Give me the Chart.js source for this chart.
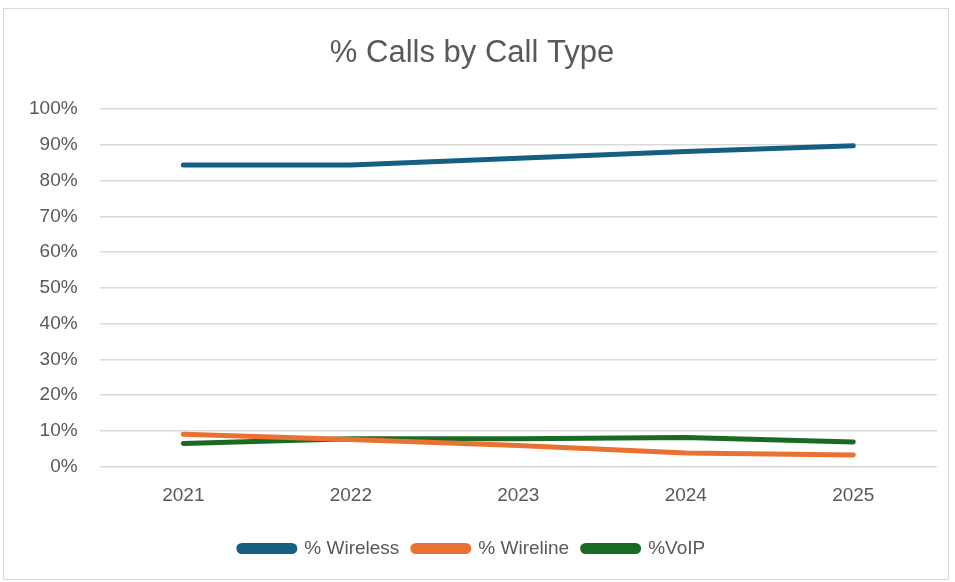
<!DOCTYPE html>
<html>
<head>
<meta charset="utf-8">
<script src="https://cdn.jsdelivr.net/npm/chart.js@4/dist/chart.umd.min.js"></script>
<style>
  html, body { margin: 0; padding: 0; background: #fff; }
  #box {
    position: absolute; left: 3px; top: 8px; width: 946px; height: 572px;
    border: 1px solid #d9d9d9; box-sizing: border-box; background: #fff;
  }
  canvas { display: block; }
</style>
</head>
<body>
<div id="box"><canvas id="chart10"></canvas></div>
<script>
// values
const years = ['2021', '2022', '2023', '2024', '2025'];
const wireless = [84.4, 84.4, 86.3, 88.2, 89.8];
const wireline = [9.1, 7.6, 5.9, 3.8, 3.3];
const voip = [6.5, 7.8, 7.8, 8.2, 6.9];
const yTicks = [0, 10, 20, 30, 40, 50, 60, 70, 80, 90, 100];

const fontFam = "'Liberation Sans', Arial, sans-serif";
const gray = '#595959';

function serie(label, data, color) {
    return {
        label: label,
        data: data,
        borderColor: color,
        backgroundColor: color,
        borderWidth: 5,
        borderCapStyle: 'round',
        borderJoinStyle: 'round',
        pointRadius: 0,
        tension: 0,
    };
}

let ctx = document.getElementById('chart10').getContext('2d');
let chartInst = new Chart(ctx, {
    type: 'line',
    data: {
        labels: years,
        datasets: [
            serie('% Wireless', wireless, '#156082'),
            serie('% Wireline', wireline, '#e97132'),
            serie('%VoIP', voip, '#196b24'),
        ],
    },
    options: {
        responsive: true,
        maintainAspectRatio: false,
        animation: false,
        layout: { padding: { left: 3, right: 11, top: 16, bottom: 11 } },
        plugins: {
            title: {
                display: true,
                text: '% Calls by Call Type',
                color: gray,
                font: { family: fontFam, size: 31, weight: 'normal' },
                padding: { top: 10, bottom: 37 },
            },
            legend: {
                position: 'bottom',
                labels: {
                    color: gray,
                    font: { family: fontFam, size: 19 },
                    boxWidth: 56,
                    boxHeight: 6,
                    useBorderRadius: true,
                    borderRadius: 3,
                    padding: 13.5,
                },
            },
            tooltip: { enabled: false },
        },
        scales: {
            x: {
                offset: true,
                grid: { display: false, drawTicks: false },
                border: { display: false },
                ticks: { color: gray, font: { family: fontFam, size: 19 }, padding: 18 },
            },
            y: {
                min: 0,
                max: 100,
                afterBuildTicks: axis => { axis.ticks = yTicks.map(v => ({ value: v })); },
                grid: { color: '#d9d9d9', lineWidth: 1.5, drawTicks: false },
                border: { display: false },
                ticks: {
                    color: gray,
                    font: { family: fontFam, size: 19 },
                    padding: 22,
                    callback: v => v + '%',
                },
            },
        },
    },
});
</script>
</body>
</html>
